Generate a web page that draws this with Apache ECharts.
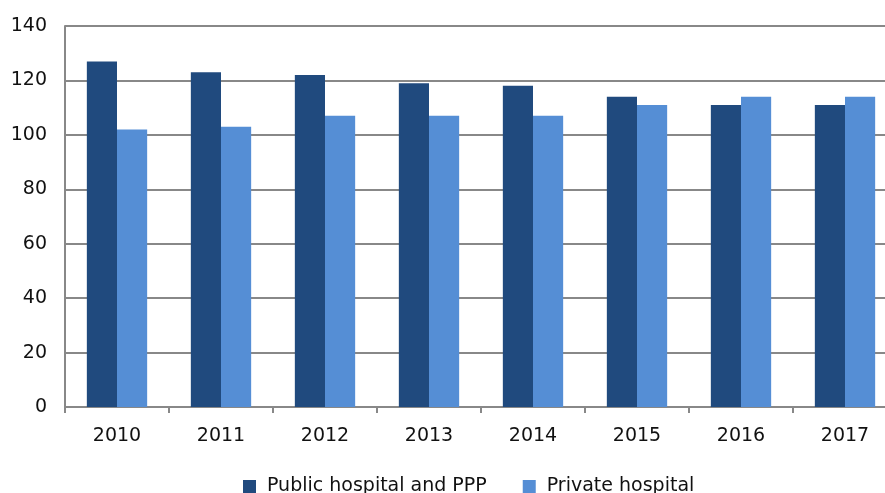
<!DOCTYPE html>
<html><head><meta charset="utf-8">
<script src="https://cdn.jsdelivr.net/npm/echarts@6/dist/echarts.min.js"></script>
<style>html,body{margin:0;padding:0;background:#fff;overflow:hidden}#c{width:898px;height:493px}</style>
</head><body><div id="c"></div>
<script>
const categories = ['2010','2011','2012','2013','2014','2015','2016','2017'];
const publicHospital = [127,123,122,119,118,114,111,111];
const privateHospital = [102,103,107,107,107,111,114,114];
const seriesNames = ['Public hospital and PPP','Private hospital'];

const chart = echarts.init(document.getElementById('c'));
const font = 'DejaVu Sans';
chart.setOption({
  animation:false,
  textStyle:{fontFamily:font},
  grid:{left:65, top:26, right:1, bottom:86},
  legend:{
    top:472, left:238, itemWidth:13, itemHeight:13, itemGap:36,
    icon:'rect',
    textStyle:{fontFamily:font, fontSize:19, color:'#111', padding:[0,0,0,6]},
    data:seriesNames
  },
  xAxis:{
    type:'category', data:categories,
    axisLine:{lineStyle:{color:'#888', width:2}},
    axisTick:{show:true, length:6, lineStyle:{color:'#888', width:2}},
    axisLabel:{fontFamily:font, fontSize:19, color:'#111', margin:20}
  },
  yAxis:{
    type:'value', min:0, max:140, interval:20,
    axisLine:{show:true, lineStyle:{color:'#888', width:2}},
    axisTick:{show:false},
    splitLine:{lineStyle:{color:'#888', width:2}},
    axisLabel:{fontFamily:font, fontSize:19, color:'#111', margin:18}
  },
  series:[
    {name:seriesNames[0], type:'bar', data:publicHospital, barGap:'0%', barCategoryGap:'42%',
     itemStyle:{color:'#204A7E'}},
    {name:seriesNames[1], type:'bar', data:privateHospital,
     itemStyle:{color:'#558ED5'}}
  ]
});
</script></body></html>
